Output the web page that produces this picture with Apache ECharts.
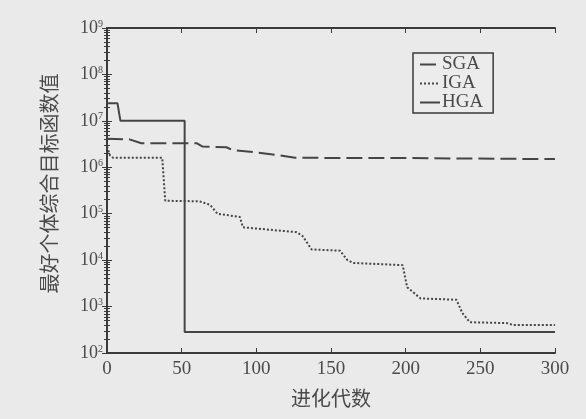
<!DOCTYPE html>
<html><head><meta charset="utf-8">
<script src="https://cdn.jsdelivr.net/npm/echarts@6/dist/echarts.min.js"></script>
<style>html,body{margin:0;padding:0;background:#eaeaea}#c{width:586px;height:419px}</style>
</head><body><div id="c"></div>
<script>
// Data (generation, best objective value)
const seriesNames = ['SGA', 'IGA', 'HGA'];
const sgaX = [0, 15, 23, 60, 64, 80, 84, 100, 116, 126, 200, 300];
const sgaY = [4.1e6, 4.0e6, 3.3e6, 3.3e6, 2.8e6, 2.7e6, 2.35e6, 2.1e6, 1.8e6, 1.6e6, 1.58e6, 1.5e6];
const igaX = [0, 2, 4, 37, 39, 62, 69, 74, 89, 91, 127, 131, 137, 156, 161, 165, 198, 201, 210, 234, 238, 243, 268, 272, 300];
const igaY = [2.8e6, 1.8e6, 1.6e6, 1.6e6, 1.9e5, 1.85e5, 1.55e5, 1.0e5, 8.5e4, 5.1e4, 4.0e4, 3.3e4, 1.7e4, 1.6e4, 1.0e4, 8.7e3, 7.8e3, 2.6e3, 1.5e3, 1.4e3, 7.2e2, 4.6e2, 4.4e2, 4.0e2, 4.0e2];
const hgaX = [0, 7, 9, 52, 52, 300];
const hgaY = [2.4e7, 2.4e7, 1.0e7, 1.0e7, 285, 285];
const xTicks = [0, 50, 100, 150, 200, 250, 300];
const yMin = 1e2, yMax = 1e9;
const xName = '进化代数';
const yName = '最好个体综合目标函数值';

function pairs(xs, ys) { return xs.map((x, i) => [x, ys[i]]); }
const lineColor = '#454545';
const labelColor = '#4a4a4a';
const serif = '"Liberation Serif", "DejaVu Serif", serif';

const chart = echarts.init(document.getElementById('c'));
const axisLine = { show: true, lineStyle: { color: '#3a3a3a', width: 2 } };
chart.setOption({
  backgroundColor: '#eaeaea',
  animation: false,
  grid: { left: 107, right: 31, top: 28, bottom: 66 },
  legend: {
    data: seriesNames,
    orient: 'vertical',
    left: 413, top: 53,
    itemWidth: 20, itemHeight: 8, itemGap: 0,
    padding: [2, 10, 1, 6],
    borderColor: '#3a3a3a', borderWidth: 1.5, borderRadius: 0,
    backgroundColor: '#ececec',
    itemStyle: { opacity: 0 },
    textStyle: { fontFamily: serif, fontSize: 19, color: labelColor, padding: [0, 0, 0, -3], lineHeight: 18 }
  },
  xAxis: [{
    type: 'value', min: 0, max: 300, interval: 50,
    name: xName, nameLocation: 'middle', nameGap: 35,
    nameTextStyle: { fontFamily: '"Noto Sans CJK SC", sans-serif', fontSize: 20, color: labelColor },
    axisLine: axisLine,
    axisTick: { show: true, inside: true, length: 5, lineStyle: { color: '#3a3a3a' } },
    axisLabel: { fontFamily: serif, fontSize: 19, color: labelColor, margin: 7,
      formatter: v => xTicks.includes(v) ? String(v) : '' },
    splitLine: { show: false }
  }, {
    type: 'value', min: 0, max: 300, interval: 50, position: 'top',
    axisLine: axisLine,
    axisTick: { show: true, inside: true, length: 5, lineStyle: { color: '#3a3a3a' } },
    axisLabel: { show: false }, splitLine: { show: false }
  }],
  yAxis: [{
    type: 'log', logBase: 10, min: yMin, max: yMax, splitNumber: 7,
    name: yName, nameLocation: 'middle', nameGap: 48, nameRotate: 90,
    nameTextStyle: { fontFamily: '"Noto Sans CJK SC", sans-serif', fontSize: 20, color: labelColor, padding: [0, 0, 0, 14] },
    axisLine: axisLine,
    axisTick: { show: true, inside: true, length: 5, lineStyle: { color: '#3a3a3a' } },
    minorTick: { show: true, splitNumber: 9, length: 3, lineStyle: { color: '#3a3a3a' } },
    axisLabel: {
      margin: 4, color: labelColor,
      formatter: v => '{b|10}{s|' + Math.round(Math.log10(v)) + '}',
      rich: {
        b: { fontFamily: serif, fontSize: 18, color: labelColor },
        s: { fontFamily: serif, fontSize: 10, color: labelColor, verticalAlign: 'top', padding: [0, 0, 8, 0] }
      }
    },
    splitLine: { show: false }
  }, {
    type: 'log', logBase: 10, min: yMin, max: yMax, splitNumber: 7, position: 'right',
    axisLine: axisLine,
    axisTick: { show: true, inside: true, length: 5, lineStyle: { color: '#3a3a3a' } },
    minorTick: { show: true, splitNumber: 9, length: 3, lineStyle: { color: '#3a3a3a' } },
    axisLabel: { show: false }, splitLine: { show: false }
  }],
  series: [
    { name: 'SGA', type: 'line', data: pairs(sgaX, sgaY), symbol: 'none',
      lineStyle: { color: lineColor, width: 2, type: [16, 6] }, itemStyle: { color: lineColor } },
    { name: 'IGA', type: 'line', data: pairs(igaX, igaY), symbol: 'none',
      lineStyle: { color: lineColor, width: 2, type: [2, 2] }, itemStyle: { color: lineColor } },
    { name: 'HGA', type: 'line', data: pairs(hgaX, hgaY), symbol: 'none',
      lineStyle: { color: lineColor, width: 2, type: 'solid' }, itemStyle: { color: lineColor } }
  ]
});
</script></body></html>
